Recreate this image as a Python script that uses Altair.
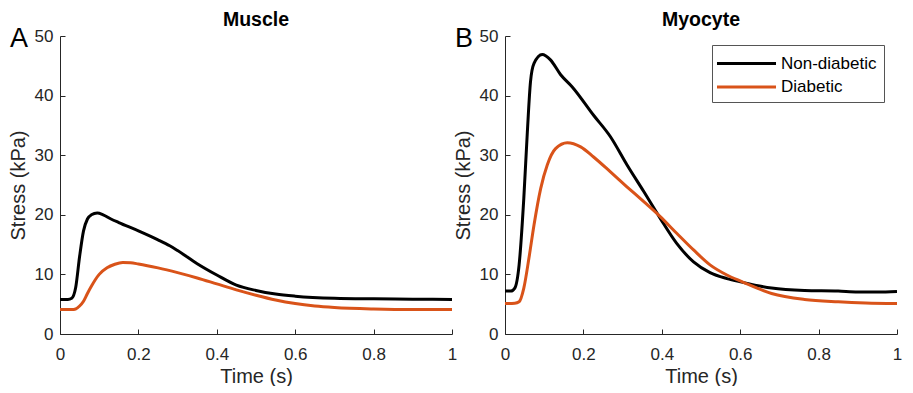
import altair as alt
import pandas as pd

# ---- data ----
# Muscle panel
mus_t_nd = [0, 0.02, 0.03, 0.04, 0.05, 0.06, 0.07, 0.08, 0.095, 0.11, 0.13, 0.15, 0.2, 0.25, 0.28, 0.3, 0.35, 0.4, 0.45, 0.5, 0.55, 0.6, 0.7, 0.8, 0.9, 1.0]
mus_v_nd = [5.8, 5.8, 6.0, 7.8, 13.0, 17.3, 19.3, 20.0, 20.3, 20.0, 19.3, 18.7, 17.3, 15.8, 14.8, 14.0, 11.8, 9.9, 8.2, 7.3, 6.7, 6.35, 6.0, 5.9, 5.85, 5.8]
mus_t_d = [0, 0.03, 0.04, 0.05, 0.06, 0.07, 0.08, 0.09, 0.1, 0.12, 0.14, 0.16, 0.18, 0.2, 0.25, 0.3, 0.35, 0.4, 0.45, 0.5, 0.55, 0.6, 0.65, 0.7, 0.8, 0.9, 1.0]
mus_v_d = [4.1, 4.1, 4.2, 4.7, 5.5, 6.8, 8.0, 9.1, 10.0, 11.1, 11.7, 12.0, 11.95, 11.75, 11.1, 10.3, 9.4, 8.4, 7.4, 6.5, 5.7, 5.1, 4.7, 4.45, 4.2, 4.1, 4.1]

# Myocyte panel
myo_t_nd = [0, 0.015, 0.025, 0.036, 0.048, 0.057, 0.065, 0.074, 0.095, 0.116, 0.142, 0.171, 0.226, 0.269, 0.311, 0.354, 0.396, 0.438, 0.481, 0.523, 0.566, 0.604, 0.68, 0.764, 0.85, 0.9, 0.95, 1.0]
myo_v_nd = [7.2, 7.2, 7.7, 11.6, 22.8, 33.9, 42.3, 45.4, 46.9, 46.0, 43.5, 41.5, 36.7, 33.1, 28.4, 23.9, 19.4, 15.2, 12.1, 10.3, 9.3, 8.7, 7.7, 7.3, 7.2, 7.05, 7.05, 7.15]
myo_t_d = [0, 0.025, 0.036, 0.048, 0.061, 0.074, 0.091, 0.108, 0.129, 0.159, 0.193, 0.226, 0.269, 0.311, 0.354, 0.396, 0.438, 0.481, 0.523, 0.566, 0.604, 0.68, 0.764, 0.85, 0.92, 1.0]
myo_v_d = [5.1, 5.15, 5.4, 7.7, 12.7, 18.3, 24.4, 28.4, 31.1, 32.1, 31.4, 29.7, 27.2, 24.7, 22.2, 19.7, 16.9, 14.1, 11.6, 9.9, 8.8, 6.8, 5.8, 5.4, 5.2, 5.1]

series_names = ["Non-diabetic", "Diabetic"]
series_colors = ["#000000", "#D95319"]
x_ticks = [0, 0.2, 0.4, 0.6, 0.8, 1]
y_ticks = [0, 10, 20, 30, 40, 50]

FONT = "Liberation Sans"
AX = "#262626"
W, H = 392, 298


def frame(t_nd, v_nd, t_d, v_d):
    a = pd.DataFrame({"t": t_nd, "v": v_nd, "series": series_names[0]})
    b = pd.DataFrame({"t": t_d, "v": v_d, "series": series_names[1]})
    return pd.concat([a, b], ignore_index=True)


cscale = alt.Scale(domain=series_names, range=series_colors)


def panel(df, title, letter, legend):
    xs = alt.Scale(domain=[0, 1], nice=False, zero=False)
    ys = alt.Scale(domain=[0, 50], nice=False)
    lines = alt.Chart(df).mark_line(strokeWidth=3, interpolate="monotone").encode(
        x=alt.X("t:Q", scale=xs, axis=alt.Axis(values=x_ticks, format="~g", title="Time (s)", ticks=False, tickSize=0,
                                                labelFlush=False, labelPadding=12, titlePadding=4, grid=False)),
        y=alt.Y("v:Q", scale=ys, axis=alt.Axis(values=y_ticks, title="Stress (kPa)", ticks=False, tickSize=0,
                                                labelPadding=7, titlePadding=6, grid=False)),
        color=alt.Color("series:N", scale=cscale, legend=legend),
    )
    tick_layer = alt.Chart(df).mark_point(opacity=0).encode(
        x=alt.X("t:Q", scale=xs, axis=alt.Axis(orient="top", offset=-H, values=x_ticks, labels=False, domain=False,
                                                ticks=True, tickSize=5, tickColor=AX, title=None, grid=False)),
        y=alt.Y("v:Q", scale=ys, axis=alt.Axis(orient="right", offset=-W, values=y_ticks, labels=False, domain=False,
                                                ticks=True, tickSize=5, tickColor=AX, title=None, grid=False)),
    )
    letter_layer = alt.Chart(pd.DataFrame({"l": [letter]})).mark_text(
        fontSize=27, font=FONT, align="left", baseline="alphabetic", color="black"
    ).encode(text="l:N", x=alt.value(-50), y=alt.value(11))
    return alt.layer(lines, tick_layer, letter_layer).resolve_axis(
        x="independent", y="independent"
    ).properties(
        width=W, height=H,
        title=alt.TitleParams(title, fontSize=19.5, fontWeight="bold", font=FONT, color="black", offset=-5,
                              anchor="middle", frame="group"),
    )


left = panel(frame(mus_t_nd, mus_v_nd, mus_t_d, mus_v_d), "Muscle", "A", None)
right = panel(frame(myo_t_nd, myo_v_nd, myo_t_d, myo_v_d), "Myocyte", "B",
              alt.Legend(title=None, orient="none", legendX=207, legendY=9, symbolType="M-3,0H3", symbolSize=387,
                         symbolStrokeWidth=3, symbolOffset=16, labelFontSize=17, labelFont=FONT, labelColor="black",
                         labelOffset=23, fillColor="white", strokeColor="#555555", padding=7, rowPadding=3.5))

chart = alt.hconcat(left, right, spacing=53, bounds="flush").resolve_legend(color="independent").properties(
    padding={"left": 0, "top": 1, "right": 0, "bottom": 0}
).configure_view(stroke=None).configure_axis(
    domainColor=AX, domainWidth=1, labelColor=AX, titleColor=AX, labelFont=FONT, titleFont=FONT,
    labelFontSize=17, titleFontSize=20, titleFontWeight="normal"
)

chart.save("out.html", embed_options={"renderer": "svg", "actions": False})
